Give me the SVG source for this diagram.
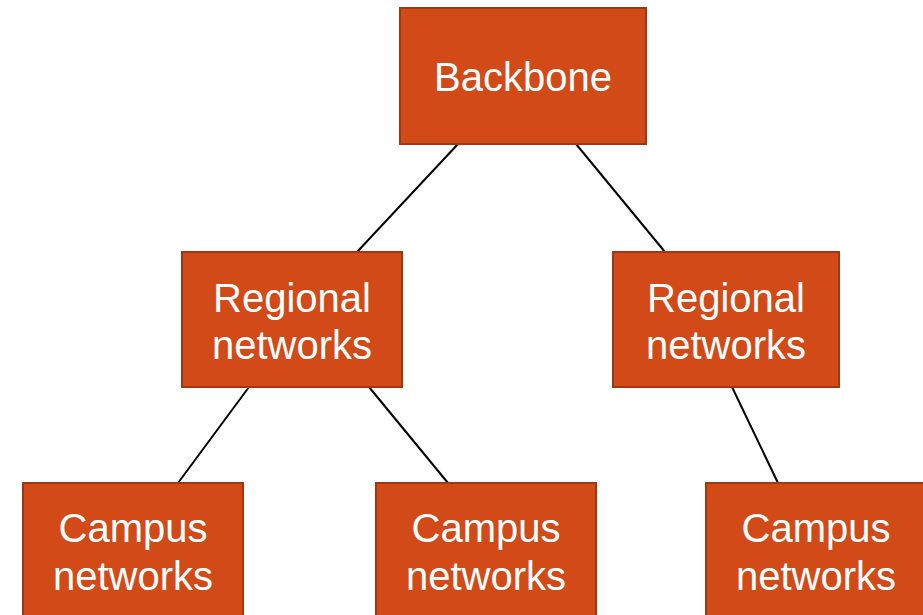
<svg xmlns="http://www.w3.org/2000/svg" width="923" height="615" viewBox="0 0 923 615">
<style>
.box{fill:#D24A18;stroke:#A1370F;stroke-width:2}
.lbl{font-family:"Liberation Sans",Arial,sans-serif;font-size:40px;fill:#FFFFFF;text-anchor:middle}
.conn{stroke:#000000;stroke-width:2;fill:none}
</style>
<rect width="923" height="615" fill="#FFFFFF"/>
<g id="connectors">
<line class="conn" x1="458" y1="144" x2="357" y2="252"/>
<line class="conn" x1="576" y1="144" x2="665" y2="252"/>
<line class="conn" x1="249" y1="387" x2="178" y2="483"/>
<line class="conn" x1="369" y1="387" x2="448" y2="483"/>
<line class="conn" x1="732" y1="387" x2="778" y2="483"/>
</g>
<g id="backbone">
<rect class="box" x="400" y="8" width="246" height="136"/>
<text class="lbl" x="523" y="91">Backbone</text>
</g>
<g id="regional1">
<rect class="box" x="182" y="252" width="220" height="135"/>
<text class="lbl" x="292" y="312">Regional</text>
<text class="lbl" x="292" y="359">networks</text>
</g>
<g id="regional2">
<rect class="box" x="613" y="252" width="226" height="135"/>
<text class="lbl" x="726" y="312">Regional</text>
<text class="lbl" x="726" y="359">networks</text>
</g>
<g id="campus1">
<rect class="box" x="23" y="483" width="220" height="140"/>
<text class="lbl" x="133" y="542">Campus</text>
<text class="lbl" x="133" y="590">networks</text>
</g>
<g id="campus2">
<rect class="box" x="376" y="483" width="220" height="140"/>
<text class="lbl" x="486" y="542">Campus</text>
<text class="lbl" x="486" y="590">networks</text>
</g>
<g id="campus3">
<rect class="box" x="706" y="483" width="230" height="140"/>
<text class="lbl" x="816" y="542">Campus</text>
<text class="lbl" x="816" y="590">networks</text>
</g>
</svg>
